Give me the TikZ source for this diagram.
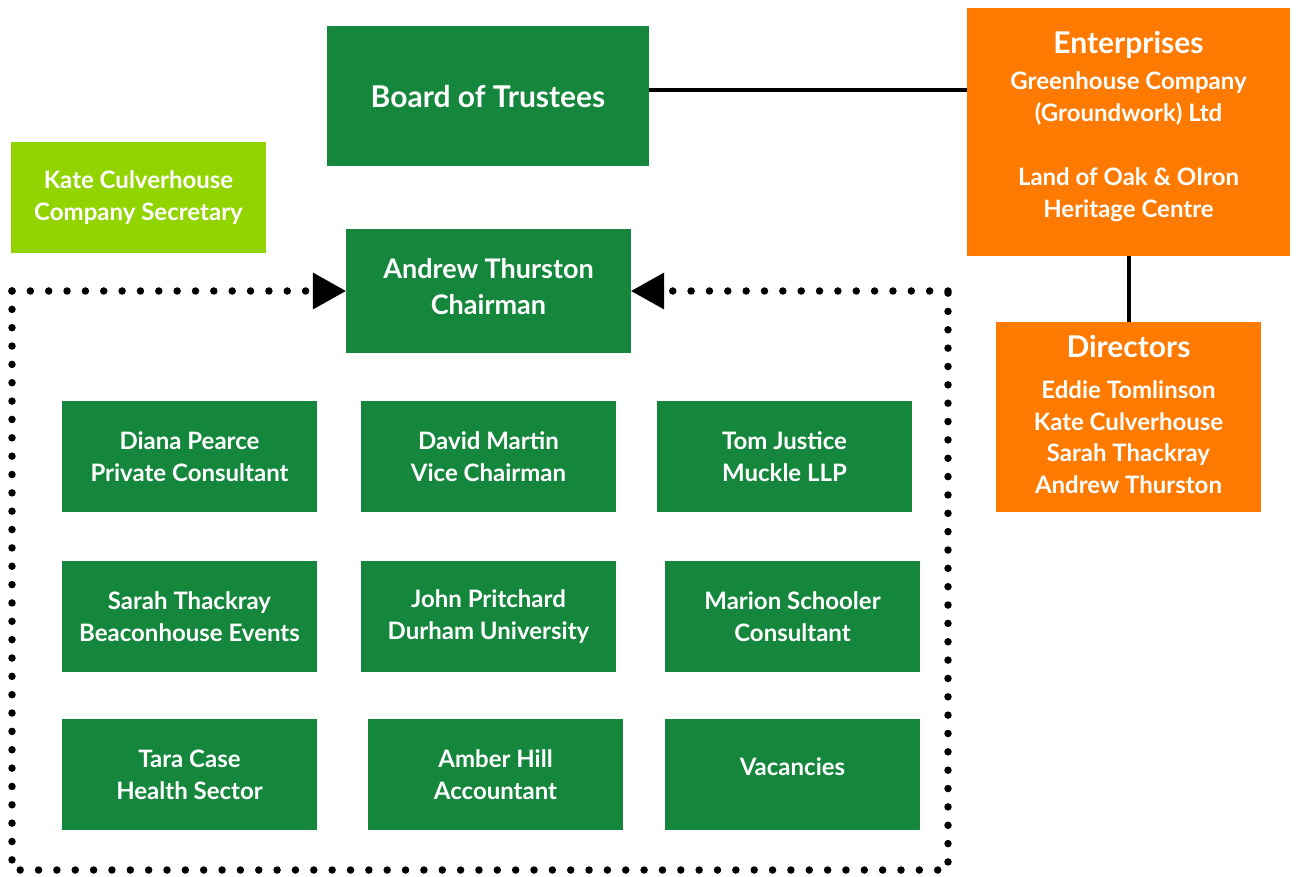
\documentclass[tikz,border=0pt]{standalone}
\usepackage{fontspec}
\setmainfont{Lato}
\usetikzlibrary{arrows.meta}
\definecolor{gr}{HTML}{15873D}
\definecolor{lime}{HTML}{92D400}
\definecolor{org}{HTML}{FF7A00}
\newcommand{\deeper}[2]{\raisebox{0pt}[\height][\dimexpr\depth+#1\relax]{#2}}
\begin{document}
\begin{tikzpicture}[x=1pt,y=-1pt,
  box/.style={fill=gr,text=white,font=\bfseries\fontsize{24}{32}\selectfont,align=center,inner sep=0pt},
  obox/.style={box,fill=org},
  cell/.style={box,minimum width=255pt,minimum height=111pt},
  conn/.style={line width=4pt},
  dotline/.style={line width=7.5pt,line cap=round,dash pattern=on 0pt off 18.35pt}]
\useasboundingbox (0,0) rectangle (1296,877);
\node[box,minimum width=322pt,minimum height=140pt,font=\bfseries\fontsize{30}{36}\selectfont] (board) at (488,96) {Board of Trustees};
\node[box,fill=lime,minimum width=255pt,minimum height=111pt] (kate) at (138.5,197.5) {Kate Culverhouse\\Company Secretary};
\node[box,minimum width=285pt,minimum height=124pt,font=\bfseries\fontsize{27}{36}\selectfont] (chair) at (488.5,291) {Andrew Thurston\\\deeper{8pt}{Chairman}};
\node[obox,minimum width=323pt,minimum height=248pt] (ent) at (1128.5,132) {};
\node[obox,fill=none,yshift=5pt] (enttxt) at (ent.center) {{\fontsize{30}{36}\selectfont Enterprises}\\[4pt]Greenhouse Company\\(Groundwork) Ltd\\[32pt]Land of Oak \& OIron\\Heritage Centre};
\node[obox,minimum width=265pt,minimum height=190pt,font=\bfseries\fontsize{24}{31.5}\selectfont] (dir) at (1128.5,417) {{\fontsize{30}{36}\selectfont Directors}\\[10pt]Eddie Tomlinson\\Kate Culverhouse\\Sarah Thackray\\\deeper{6pt}{Andrew Thurston}};
\node[cell] (diana) at (189.5,456.5) {Diana Pearce\\Private Consultant};
\node[cell] (david) at (488.5,456.5) {David Martin\\Vice Chairman};
\node[cell] (tom) at (784.5,456.5) {Tom Justice\\Muckle LLP};
\node[cell] (sarah) at (189.5,616.5) {Sarah Thackray\\Beaconhouse Events};
\node[cell] (john) at (488.5,616.5) {John Pritchard\\Durham University};
\node[cell] (marion) at (792.5,616.5) {Marion Schooler\\Consultant};
\node[cell] (tara) at (189.5,774.5) {Tara Case\\Health Sector};
\node[cell] (amber) at (495.5,774.5) {Amber Hill\\Accountant};
\node[cell] (vac) at (792.5,774.5) {\raisebox{15pt}{Vacancies}};
\draw[conn] (board.east |- 0,90) -- (ent.west |- 0,90);
\draw[conn] (ent.south) -- (dir.north);
\coordinate (c1) at (12,291);
\coordinate (c2) at (12,870);
\coordinate (c3) at (948,870);
\coordinate (c4) at (948,291);
\draw[dotline] (c1) -- (c2) -- (c3) -- (c4);
\draw[dotline,shorten >=40pt] (c1) -- (chair.west);
\draw[dotline,shorten >=40pt] (c4) -- (chair.east);
\fill (chair.west) -- ++(-33,-18.5) -- ++(0,37) -- cycle;
\fill (chair.east) -- ++(33,-18.5) -- ++(0,37) -- cycle;
\end{tikzpicture}
\end{document}
